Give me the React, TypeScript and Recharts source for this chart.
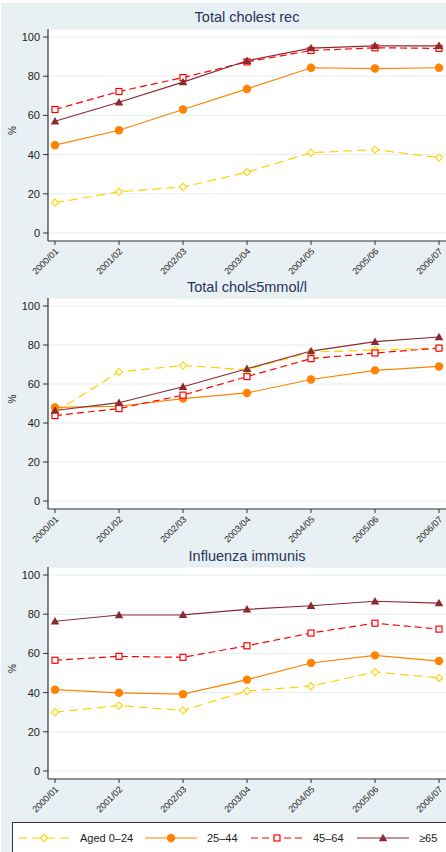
import React from "react";
import { LineChart, Line, XAxis, YAxis, CartesianGrid } from "recharts";

const periods = ["2000/01", "2001/02", "2002/03", "2003/04", "2004/05", "2005/06", "2006/07"];
const yTicks = [0, 20, 40, 60, 80, 100];

// Total cholesterol recorded
const cholRecAged0_24 = [15.5, 21, 23.5, 31, 41, 42.5, 38.5];
const cholRecAged25_44 = [44.8, 52.4, 63, 73.5, 84.3, 83.9, 84.3];
const cholRecAged45_64 = [63, 72.2, 79.3, 87.3, 93.1, 94.5, 94.2];
const cholRecAged65 = [57, 66.7, 77, 87.9, 94.3, 95.5, 95.5];

// Total cholesterol <= 5 mmol/l
const cholLowAged0_24 = [45.5, 66.2, 69.5, 67.3, 76.4, 77.4, 78.4];
const cholLowAged25_44 = [48, 48.6, 52.5, 55.4, 62.3, 67, 69];
const cholLowAged45_64 = [43.8, 47.4, 54.3, 63.8, 73, 75.9, 78.4];
const cholLowAged65 = [46.4, 50.4, 58.6, 67.8, 76.9, 81.7, 84.1];

// Influenza immunisation
const fluAged0_24 = [30, 33.4, 30.9, 40.8, 43.3, 50.5, 47.5];
const fluAged25_44 = [41.5, 39.9, 39.2, 46.6, 55.1, 59, 56.1];
const fluAged45_64 = [56.5, 58.5, 58, 63.9, 70.4, 75.4, 72.4];
const fluAged65 = [76.4, 79.6, 79.7, 82.5, 84.3, 86.6, 85.7];

const groups = [
  { key: "g1", name: "Aged 0\u201324", color: "#ffd200", dash: "9 5", shape: "diamond" },
  { key: "g2", name: "25\u201344", color: "#ff8200", dash: undefined, shape: "circle" },
  { key: "g3", name: "45\u201364", color: "#ff0000", dash: "7 4", shape: "square" },
  { key: "g4", name: "\u226565", color: "#8c2a32", dash: undefined, shape: "triangle" },
];

const buildRows = (a: number[], b: number[], c: number[], d: number[]) =>
  periods.map((p, i) => ({ period: p, g1: a[i], g2: b[i], g3: c[i], g4: d[i] }));

const panels = [
  { title: "Total cholest rec", top: 0, marginTop: 29, height: 280, titleY: 17,
    rows: buildRows(cholRecAged0_24, cholRecAged25_44, cholRecAged45_64, cholRecAged65) },
  { title: "Total chol\u22645mmol/l", top: 270, marginTop: 28, height: 278, titleY: 287,
    rows: buildRows(cholLowAged0_24, cholLowAged25_44, cholLowAged45_64, cholLowAged65) },
  { title: "Influenza immunis", top: 539, marginTop: 28, height: 279, titleY: 556,
    rows: buildRows(fluAged0_24, fluAged25_44, fluAged45_64, fluAged65) },
];

const FONT = "'Liberation Sans', Arial, sans-serif";
const BG = "#e9f0f3";

function Marker({ cx, cy, shape, color }: { cx: number; cy: number; shape: string; color: string }) {
  if (shape === "diamond")
    return (
      <polygon
        points={`${cx},${cy - 3.6} ${cx + 3.6},${cy} ${cx},${cy + 3.6} ${cx - 3.6},${cy}`}
        fill="#fff"
        stroke={color}
        strokeWidth={1.1}
      />
    );
  if (shape === "circle") return <circle cx={cx} cy={cy} r={4.2} fill={color} />;
  if (shape === "square")
    return <rect x={cx - 3} y={cy - 3} width={6} height={6} fill="#fff" stroke={color} strokeWidth={1.2} />;
  return <polygon points={`${cx},${cy - 4.3} ${cx + 4.3},${cy + 3.2} ${cx - 4.3},${cy + 3.2}`} fill={color} />;
}

function XTick(props: any) {
  const { x, y, payload } = props;
  return (
    <text
      x={0}
      y={0}
      transform={`translate(${x + 4},${y + 5}) rotate(-45)`}
      textAnchor="end"
      fontSize={9}
      fill="#222"
      fontFamily={FONT}
    >
      {payload.value}
    </text>
  );
}

function Panel({ panel }: { panel: (typeof panels)[number] }) {
  return (
    <>
      <div
        style={{
          position: "absolute",
          top: panel.titleY - 9,
          left: 48,
          width: 398,
          textAlign: "center",
          fontSize: 14.5,
          lineHeight: "18px",
          color: "#24355a",
          fontFamily: FONT,
        }}
      >
        {panel.title}
      </div>
      <div style={{ position: "absolute", top: panel.top, left: 0 }}>
        <LineChart
          width={446}
          height={panel.height}
          data={panel.rows}
          margin={{ top: panel.marginTop, right: 0, bottom: 0, left: 0 }}
        >
          <CartesianGrid vertical={false} fill="#fff" stroke="#e4edf1" strokeWidth={1} />
          <XAxis
            dataKey="period"
            interval={0}
            height={39}
            padding={{ left: 7, right: 7 }}
            tick={<XTick />}
            tickSize={4}
            tickLine={{ stroke: "#333" }}
            axisLine={{ stroke: "#333", strokeWidth: 1.2 }}
          />
          <YAxis
            domain={[0, 100]}
            ticks={yTicks}
            width={48}
            padding={{ top: 8, bottom: 8 }}
            tickSize={5}
            tickMargin={3}
            tick={{ fontSize: 11, fill: "#222", fontFamily: FONT }}
            tickLine={{ stroke: "#333" }}
            axisLine={{ stroke: "#333", strokeWidth: 1.2 }}
            label={{ value: "%", angle: -90, position: "insideLeft", offset: 12, fontSize: 10, fill: "#222", fontFamily: FONT }}
          />
          {groups.map((g) => (
            <Line
              key={g.key}
              dataKey={g.key}
              name={g.name}
              type="linear"
              stroke={g.color}
              strokeWidth={1.2}
              strokeDasharray={g.dash}
              isAnimationActive={false}
              activeDot={false}
              dot={(p: any) => <Marker key={p.index} cx={p.cx} cy={p.cy} shape={g.shape} color={g.color} />}
            />
          ))}
        </LineChart>
      </div>
    </>
  );
}

const legendX = [18, 145, 251, 357];

function LegendBox() {
  return (
    <svg
      width={434}
      height={32}
      style={{ position: "absolute", top: 822, left: 12, overflow: "hidden" }}
    >
      <rect x={0.5} y={0.5} width={440} height={40} fill="#fff" stroke="#333" strokeWidth={1} />
      {groups.map((g, i) => {
        const x0 = legendX[i] - 12;
        return (
          <g key={g.key}>
            <line
              x1={x0}
              x2={x0 + 52}
              y1={16}
              y2={16}
              stroke={g.color}
              strokeWidth={1.2}
              strokeDasharray={g.dash}
            />
            <Marker cx={x0 + 26} cy={16} shape={g.shape} color={g.color} />
            <text x={x0 + 62} y={20} fontSize={11} fill="#222" fontFamily={FONT}>
              {g.name}
            </text>
          </g>
        );
      })}
    </svg>
  );
}

export default function App() {
  return (
    <div
      style={{
        position: "absolute",
        top: 0,
        left: 0,
        width: 446,
        height: 852,
        overflow: "hidden",
        background: "#fff",
      }}
    >
      <div style={{ position: "absolute", top: 3, left: 1, width: 445, height: 849, background: BG }} />
      {panels.map((p) => (
        <Panel key={p.title} panel={p} />
      ))}
      <LegendBox />
    </div>
  );
}
